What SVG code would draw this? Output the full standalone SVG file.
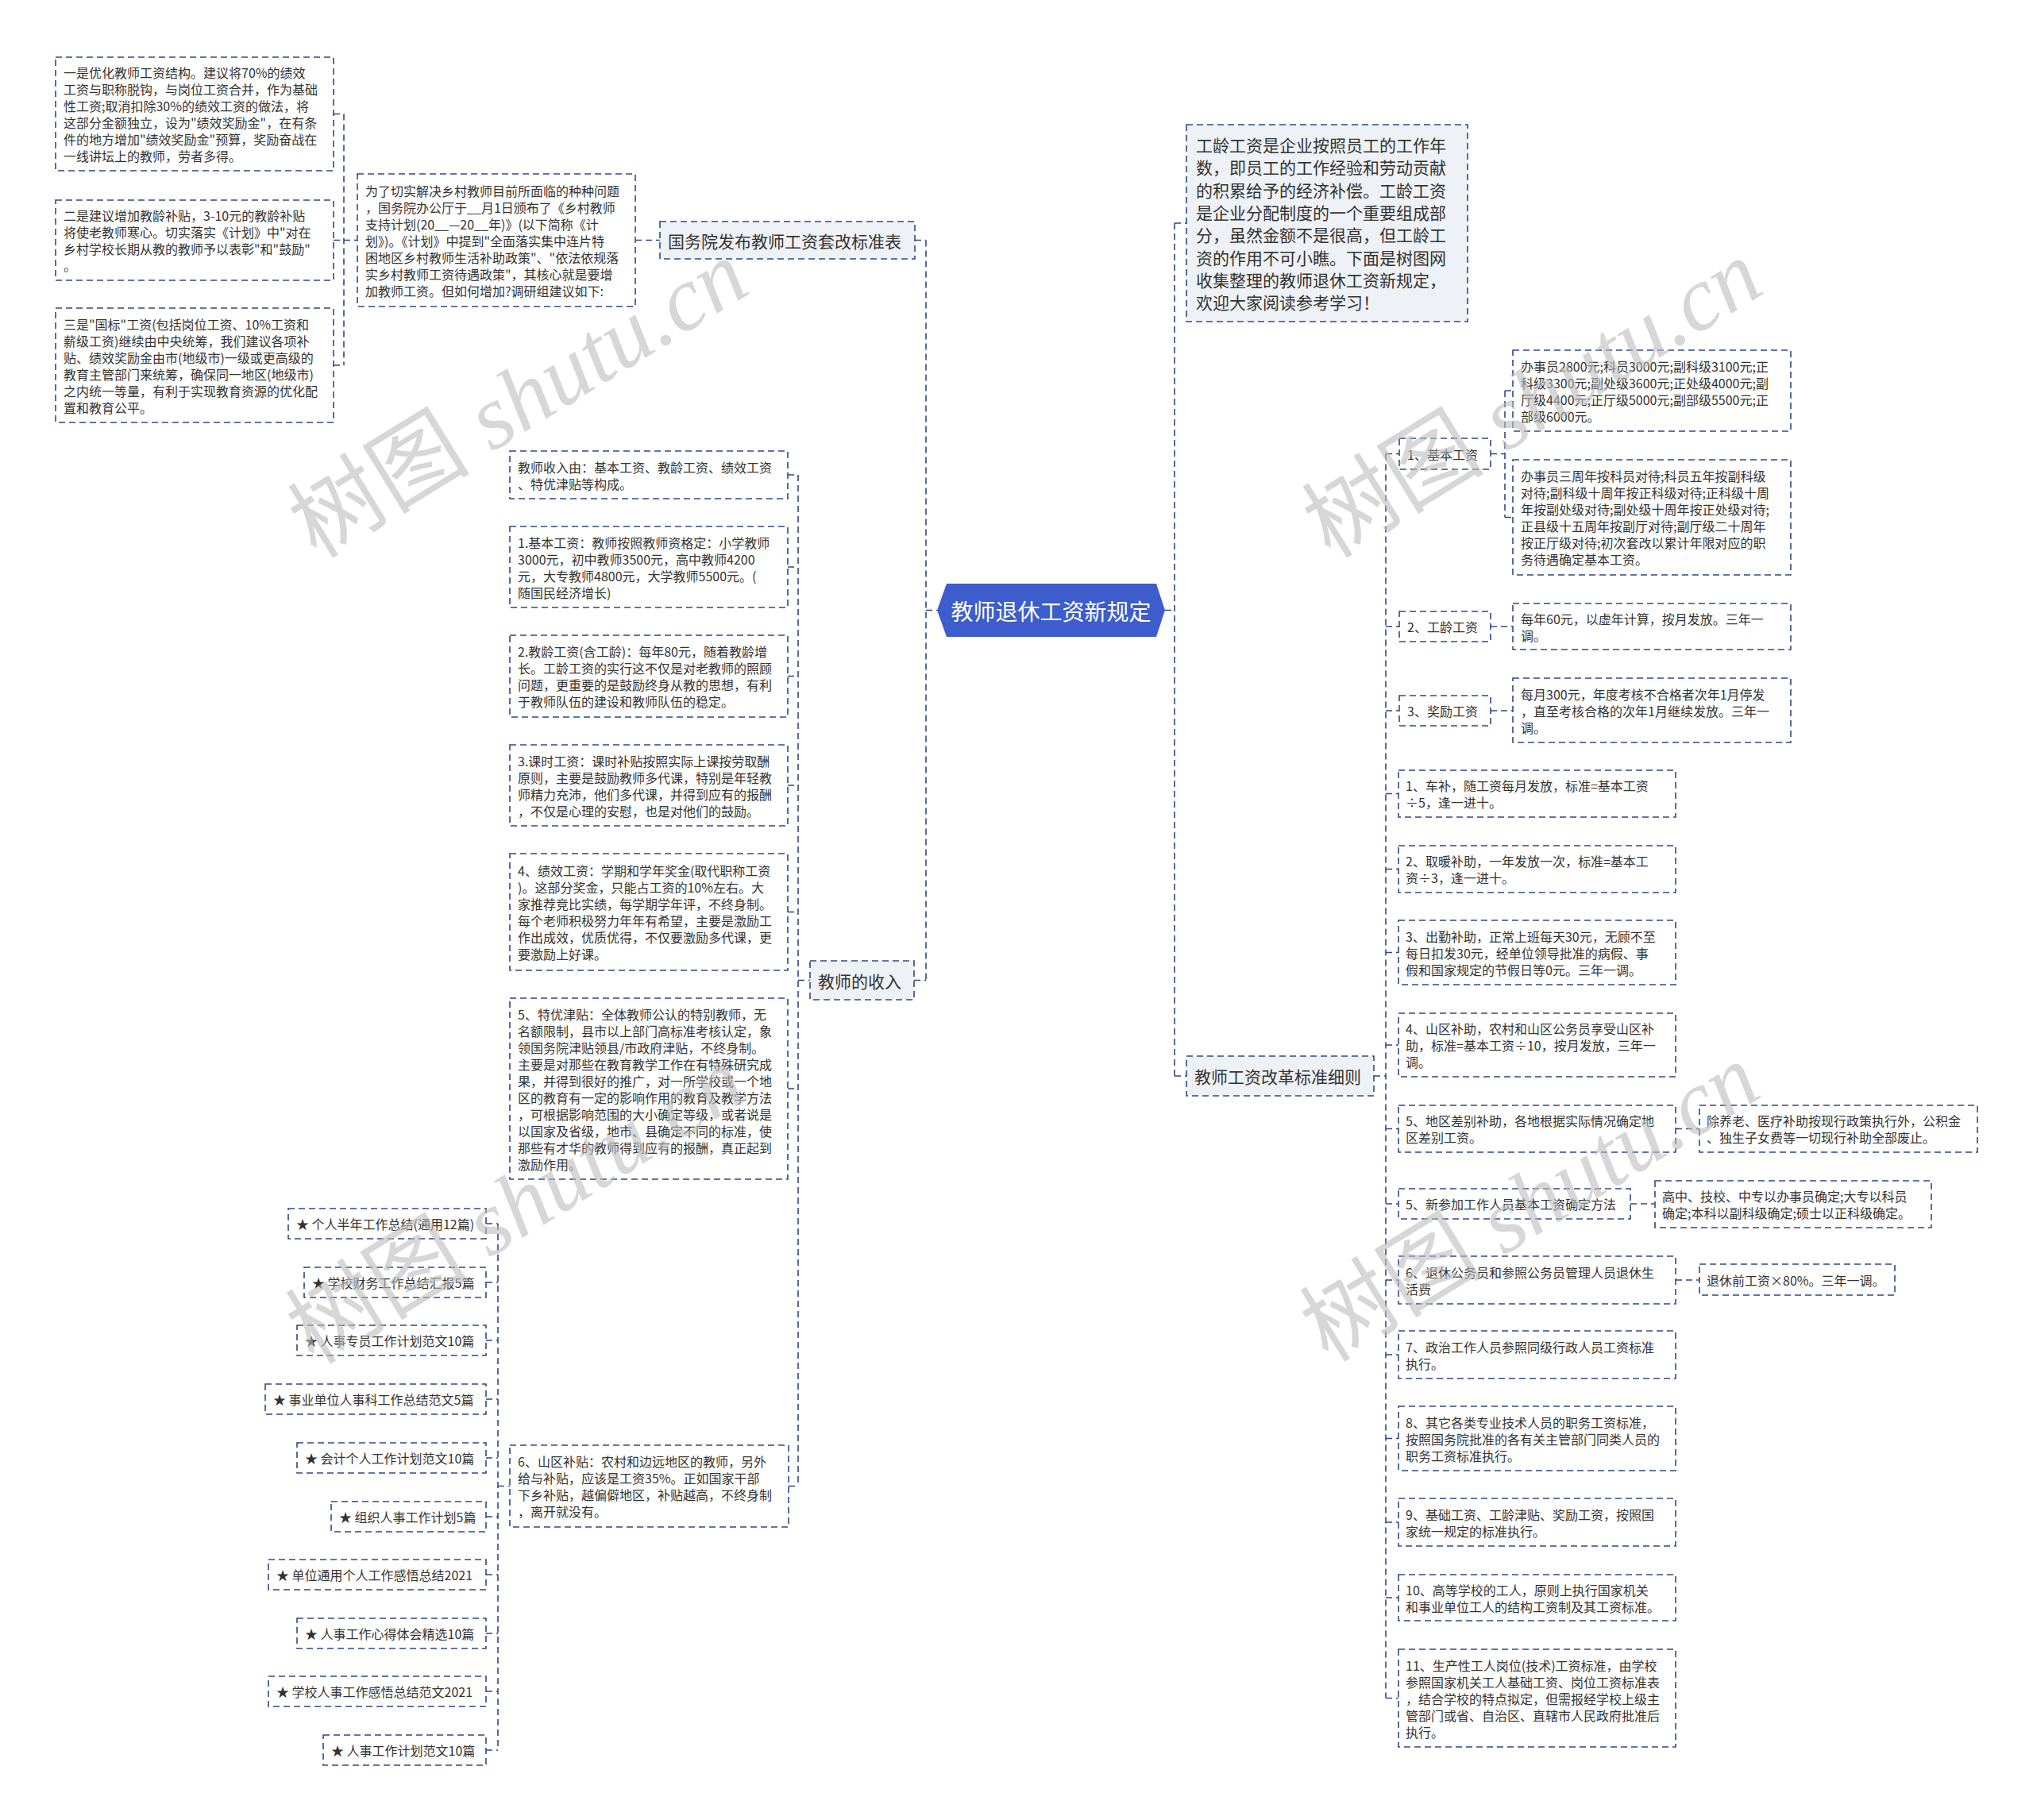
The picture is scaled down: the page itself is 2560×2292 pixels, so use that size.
<svg xmlns="http://www.w3.org/2000/svg" width="2560" height="2292" viewBox="0 0 2560 2292">
<style>
.bx{fill:#ffffff;stroke:#2e4a86;stroke-width:1.6;stroke-dasharray:8 5}
.n1{fill:#eef1f5;stroke:#2e4a86;stroke-width:1.6;stroke-dasharray:8 5}
.cn{fill:none;stroke:#2e4a86;stroke-width:1.6;stroke-dasharray:8 5}
text{font-family:"Noto Sans CJK SC","Noto Sans",sans-serif;fill:#333333;dominant-baseline:central}
.t{font-size:16px}
.t1{font-size:21px}
.rt{font-size:28px;fill:#ffffff;text-anchor:middle}
.wm{font-family:"Liberation Serif","Noto Sans CJK SC",serif;font-size:115px;fill:#bdbdbd;fill-opacity:0.6;text-anchor:middle}
</style>
<rect width="2560" height="2292" fill="#ffffff"/>

<g id="connectors">
<path class="cn" d="M420,143.5H433M420,302.5H450M420,460H433M433,143.5V460M800,302.5H831"/>
<path class="cn" d="M1152,302.5H1166M1151,1234.5H1166M1166,302.5V1234.5M1166,768.5H1180"/>
<path class="cn" d="M992,598H1005M992,714H1005M992,851.5H1005M992,989H1005M992,1148.5H1005M992,1371H1005M993,1871.5H1005M1005,598V1871.5M1005,1234.5H1020"/>
<path class="cn" d="M612,1541H627M612,1615H627M612,1688H627M612,1762H627M612,1836H627M612,1910H627M612,1983H627M612,2057H627M612,2130H627M612,2204H627M627,1541V2204M627,1871.5H642"/>
<path class="cn" d="M1467,768.5H1479M1479,281V1355M1479,281H1494M1479,1355H1494M1730,1355H1745M1745,571.5V2138.5"/>
<path class="cn" d="M1745,571.5H1762M1745,789H1762M1745,895H1762M1745,999.5H1761M1745,1094.5H1761M1745,1199.5H1761M1745,1316H1761M1745,1421.5H1761M1745,1516H1761M1745,1612H1761M1745,1706H1761M1745,1811.5H1761M1745,1917H1761M1745,2012H1761M1745,2138.5H1761"/>
<path class="cn" d="M1877,571.5H1895M1895,492V651.5M1895,492H1905M1895,651.5H1905M1877,789H1905M1877,895H1905M2110,1421.5H2140M2053,1516H2084M2110,1612H2140"/>
</g>

<g id="root">
<polygon points="1180,768.5 1192,735 1456,735 1467,768.5 1456,802 1192,802" fill="#3d5dcc"/>
<text class="rt" x="1323.5" y="768.5">教师退休工资新规定</text>
</g>

<g id="n-guowuyuan">
<rect class="n1" x="831" y="279" width="321" height="47"/>
<text class="t1" x="841" y="302.5">国务院发布教师工资套改标准表</text>
</g>
<g id="n-para">
<rect class="bx" x="450" y="219" width="350" height="167"/>
<text class="t"><tspan x="460" y="239.5">为了切实解决乡村教师目前所面临的种种问题</tspan><tspan x="460" y="260.5">，国务院办公厅于__月1日颁布了《乡村教师</tspan><tspan x="460" y="281.5">支持计划(20__—20__年)》(以下简称《计</tspan><tspan x="460" y="302.5">划》)。《计划》中提到"全面落实集中连片特</tspan><tspan x="460" y="323.5">困地区乡村教师生活补助政策"、"依法依规落</tspan><tspan x="460" y="344.5">实乡村教师工资待遇政策"，其核心就是要增</tspan><tspan x="460" y="365.5">加教师工资。但如何增加?调研组建议如下:</tspan></text>
</g>
<g id="n-l1">
<rect class="bx" x="70" y="72" width="350" height="143"/>
<text class="t"><tspan x="80" y="91">一是优化教师工资结构。建议将70%的绩效</tspan><tspan x="80" y="112">工资与职称脱钩，与岗位工资合并，作为基础</tspan><tspan x="80" y="133">性工资;取消扣除30%的绩效工资的做法，将</tspan><tspan x="80" y="154">这部分金额独立，设为"绩效奖励金"，在有条</tspan><tspan x="80" y="175">件的地方增加"绩效奖励金"预算，奖励奋战在</tspan><tspan x="80" y="196">一线讲坛上的教师，劳者多得。</tspan></text>
</g>
<g id="n-l2">
<rect class="bx" x="70" y="252" width="350" height="101"/>
<text class="t"><tspan x="80" y="271">二是建议增加教龄补贴，3-10元的教龄补贴</tspan><tspan x="80" y="292">将使老教师寒心。切实落实《计划》中"对在</tspan><tspan x="80" y="313">乡村学校长期从教的教师予以表彰"和"鼓励"</tspan><tspan x="80" y="334">。</tspan></text>
</g>
<g id="n-l3">
<rect class="bx" x="70" y="388" width="350" height="144"/>
<text class="t"><tspan x="80" y="407.5">三是"国标"工资(包括岗位工资、10%工资和</tspan><tspan x="80" y="428.5">薪级工资)继续由中央统筹，我们建议各项补</tspan><tspan x="80" y="449.5">贴、绩效奖励金由市(地级市)一级或更高级的</tspan><tspan x="80" y="470.5">教育主管部门来统筹，确保同一地区(地级市)</tspan><tspan x="80" y="491.5">之内统一等量，有利于实现教育资源的优化配</tspan><tspan x="80" y="512.5">置和教育公平。</tspan></text>
</g>

<g id="n-income">
<rect class="n1" x="1020" y="1210" width="131" height="49"/>
<text class="t1" x="1030" y="1234.5">教师的收入</text>
</g>
<g id="n-ia">
<rect class="bx" x="642" y="568" width="350" height="60"/>
<text class="t"><tspan x="652" y="587.5">教师收入由：基本工资、教龄工资、绩效工资</tspan><tspan x="652" y="608.5">、特优津贴等构成。</tspan></text>
</g>
<g id="n-ib">
<rect class="bx" x="642" y="663" width="350" height="102"/>
<text class="t"><tspan x="652" y="682.5">1.基本工资：教师按照教师资格定：小学教师</tspan><tspan x="652" y="703.5">3000元，初中教师3500元，高中教师4200</tspan><tspan x="652" y="724.5">元，大专教师4800元，大学教师5500元。(</tspan><tspan x="652" y="745.5">随国民经济增长)</tspan></text>
</g>
<g id="n-ic">
<rect class="bx" x="642" y="800" width="350" height="103"/>
<text class="t"><tspan x="652" y="820">2.教龄工资(含工龄)：每年80元，随着教龄增</tspan><tspan x="652" y="841">长。工龄工资的实行这不仅是对老教师的照顾</tspan><tspan x="652" y="862">问题，更重要的是鼓励终身从教的思想，有利</tspan><tspan x="652" y="883">于教师队伍的建设和教师队伍的稳定。</tspan></text>
</g>
<g id="n-id">
<rect class="bx" x="642" y="938" width="350" height="102"/>
<text class="t"><tspan x="652" y="957.5">3.课时工资：课时补贴按照实际上课按劳取酬</tspan><tspan x="652" y="978.5">原则，主要是鼓励教师多代课，特别是年轻教</tspan><tspan x="652" y="999.5">师精力充沛，他们多代课，并得到应有的报酬</tspan><tspan x="652" y="1020.5">，不仅是心理的安慰，也是对他们的鼓励。</tspan></text>
</g>
<g id="n-ie">
<rect class="bx" x="642" y="1075" width="350" height="147"/>
<text class="t"><tspan x="652" y="1096">4、绩效工资：学期和学年奖金(取代职称工资</tspan><tspan x="652" y="1117">)。这部分奖金，只能占工资的10%左右。大</tspan><tspan x="652" y="1138">家推荐竞比实绩，每学期学年评，不终身制。</tspan><tspan x="652" y="1159">每个老师积极努力年年有希望，主要是激励工</tspan><tspan x="652" y="1180">作出成效，优质优得，不仅要激励多代课，更</tspan><tspan x="652" y="1201">要激励上好课。</tspan></text>
</g>
<g id="n-if">
<rect class="bx" x="642" y="1257" width="350" height="228"/>
<text class="t"><tspan x="652" y="1276.5">5、特优津贴：全体教师公认的特别教师，无</tspan><tspan x="652" y="1297.5">名额限制，县市以上部门高标准考核认定，象</tspan><tspan x="652" y="1318.5">领国务院津贴领县/市政府津贴，不终身制。</tspan><tspan x="652" y="1339.5">主要是对那些在教育教学工作在有特殊研究成</tspan><tspan x="652" y="1360.5">果，并得到很好的推广，对一所学校或一个地</tspan><tspan x="652" y="1381.5">区的教育有一定的影响作用的教育及教学方法</tspan><tspan x="652" y="1402.5">，可根据影响范围的大小确定等级，或者说是</tspan><tspan x="652" y="1423.5">以国家及省级，地市、县确定不同的标准，使</tspan><tspan x="652" y="1444.5">那些有才华的教师得到应有的报酬，真正起到</tspan><tspan x="652" y="1465.5">激励作用。</tspan></text>
</g>
<g id="n-ig">
<rect class="bx" x="642" y="1820" width="351" height="103"/>
<text class="t"><tspan x="652" y="1840">6、山区补贴：农村和边远地区的教师，另外</tspan><tspan x="652" y="1861">给与补贴，应该是工资35%。正如国家干部</tspan><tspan x="652" y="1882">下乡补贴，越偏僻地区，补贴越高，不终身制</tspan><tspan x="652" y="1903">，离开就没有。</tspan></text>
</g>

<g id="n-s1"><rect class="bx" x="363" y="1522" width="249" height="38"/><text class="t" x="373" y="1541">★ 个人半年工作总结(通用12篇)</text></g>
<g id="n-s2"><rect class="bx" x="383" y="1596" width="229" height="38"/><text class="t" x="393" y="1615">★ 学校财务工作总结汇报5篇</text></g>
<g id="n-s3"><rect class="bx" x="374" y="1669" width="238" height="38"/><text class="t" x="384" y="1688">★ 人事专员工作计划范文10篇</text></g>
<g id="n-s4"><rect class="bx" x="334" y="1743" width="278" height="38"/><text class="t" x="344" y="1762">★ 事业单位人事科工作总结范文5篇</text></g>
<g id="n-s5"><rect class="bx" x="374" y="1817" width="238" height="38"/><text class="t" x="384" y="1836">★ 会计个人工作计划范文10篇</text></g>
<g id="n-s6"><rect class="bx" x="417" y="1891" width="195" height="38"/><text class="t" x="427" y="1910">★ 组织人事工作计划5篇</text></g>
<g id="n-s7"><rect class="bx" x="338" y="1964" width="274" height="38"/><text class="t" x="348" y="1983">★ 单位通用个人工作感悟总结2021</text></g>
<g id="n-s8"><rect class="bx" x="374" y="2038" width="238" height="38"/><text class="t" x="384" y="2057">★ 人事工作心得体会精选10篇</text></g>
<g id="n-s9"><rect class="bx" x="338" y="2111" width="274" height="38"/><text class="t" x="348" y="2130">★ 学校人事工作感悟总结范文2021</text></g>
<g id="n-s10"><rect class="bx" x="407" y="2185" width="205" height="38"/><text class="t" x="417" y="2204">★ 人事工作计划范文10篇</text></g>

<g id="n-intro">
<rect class="n1" x="1494" y="157" width="354" height="248"/>
<text class="t1"><tspan x="1506" y="182">工龄工资是企业按照员工的工作年</tspan><tspan x="1506" y="210.3">数，即员工的工作经验和劳动贡献</tspan><tspan x="1506" y="238.6">的积累给予的经济补偿。工龄工资</tspan><tspan x="1506" y="266.9">是企业分配制度的一个重要组成部</tspan><tspan x="1506" y="295.2">分，虽然金额不是很高，但工龄工</tspan><tspan x="1506" y="323.5">资的作用不可小瞧。下面是树图网</tspan><tspan x="1506" y="351.8">收集整理的教师退休工资新规定，</tspan><tspan x="1506" y="380.1">欢迎大家阅读参考学习！</tspan></text>
</g>
<g id="n-rules">
<rect class="n1" x="1494" y="1330" width="236" height="50"/>
<text class="t1" x="1504" y="1355">教师工资改革标准细则</text>
</g>

<g id="n-jb"><rect class="bx" x="1762" y="552" width="115" height="39"/><text class="t" x="1772" y="571.5">1、基本工资</text></g>
<g id="n-jb1">
<rect class="bx" x="1905" y="441" width="350" height="102"/>
<text class="t"><tspan x="1915" y="460.5">办事员2800元;科员3000元;副科级3100元;正</tspan><tspan x="1915" y="481.5">科级3300元;副处级3600元;正处级4000元;副</tspan><tspan x="1915" y="502.5">厅级4400元;正厅级5000元;副部级5500元;正</tspan><tspan x="1915" y="523.5">部级6000元。</tspan></text>
</g>
<g id="n-jb2">
<rect class="bx" x="1905" y="579" width="350" height="145"/>
<text class="t"><tspan x="1915" y="599">办事员三周年按科员对待;科员五年按副科级</tspan><tspan x="1915" y="620">对待;副科级十周年按正科级对待;正科级十周</tspan><tspan x="1915" y="641">年按副处级对待;副处级十周年按正处级对待;</tspan><tspan x="1915" y="662">正县级十五周年按副厅对待;副厅级二十周年</tspan><tspan x="1915" y="683">按正厅级对待;初次套改以累计年限对应的职</tspan><tspan x="1915" y="704">务待遇确定基本工资。</tspan></text>
</g>
<g id="n-gl"><rect class="bx" x="1762" y="770" width="115" height="38"/><text class="t" x="1772" y="789">2、工龄工资</text></g>
<g id="n-gl1">
<rect class="bx" x="1905" y="760" width="350" height="58"/>
<text class="t"><tspan x="1915" y="778.5">每年60元，以虚年计算，按月发放。三年一</tspan><tspan x="1915" y="799.5">调。</tspan></text>
</g>
<g id="n-jl"><rect class="bx" x="1762" y="876" width="115" height="38"/><text class="t" x="1772" y="895">3、奖励工资</text></g>
<g id="n-jl1">
<rect class="bx" x="1905" y="854" width="350" height="81"/>
<text class="t"><tspan x="1915" y="873.5">每月300元，年度考核不合格者次年1月停发</tspan><tspan x="1915" y="894.5">，直至考核合格的次年1月继续发放。三年一</tspan><tspan x="1915" y="915.5">调。</tspan></text>
</g>

<g id="n-r1"><rect class="bx" x="1761" y="970" width="349" height="59"/><text class="t"><tspan x="1770" y="989">1、车补，随工资每月发放，标准=基本工资</tspan><tspan x="1770" y="1010">÷5，逢一进十。</tspan></text></g>
<g id="n-r2"><rect class="bx" x="1761" y="1065" width="349" height="59"/><text class="t"><tspan x="1770" y="1084">2、取暖补助，一年发放一次，标准=基本工</tspan><tspan x="1770" y="1105">资÷3，逢一进十。</tspan></text></g>
<g id="n-r3"><rect class="bx" x="1761" y="1159" width="349" height="81"/><text class="t"><tspan x="1770" y="1178.5">3、出勤补助，正常上班每天30元，无顾不至</tspan><tspan x="1770" y="1199.5">每日扣发30元，经单位领导批准的病假、事</tspan><tspan x="1770" y="1220.5">假和国家规定的节假日等0元。三年一调。</tspan></text></g>
<g id="n-r4"><rect class="bx" x="1761" y="1276" width="349" height="80"/><text class="t"><tspan x="1770" y="1295">4、山区补助，农村和山区公务员享受山区补</tspan><tspan x="1770" y="1316">助，标准=基本工资÷10，按月发放，三年一</tspan><tspan x="1770" y="1337">调。</tspan></text></g>
<g id="n-r5"><rect class="bx" x="1761" y="1392" width="349" height="59"/><text class="t"><tspan x="1770" y="1411">5、地区差别补助，各地根据实际情况确定地</tspan><tspan x="1770" y="1432">区差别工资。</tspan></text></g>
<g id="n-r5c"><rect class="bx" x="2140" y="1392" width="350" height="59"/><text class="t"><tspan x="2149" y="1411">除养老、医疗补助按现行政策执行外，公积金</tspan><tspan x="2149" y="1432">、独生子女费等一切现行补助全部废止。</tspan></text></g>
<g id="n-r6"><rect class="bx" x="1761" y="1497" width="292" height="38"/><text class="t" x="1770" y="1516">5、新参加工作人员基本工资确定方法</text></g>
<g id="n-r6c"><rect class="bx" x="2084" y="1487" width="348" height="59"/><text class="t"><tspan x="2093" y="1506">高中、技校、中专以办事员确定;大专以科员</tspan><tspan x="2093" y="1527">确定;本科以副科级确定;硕士以正科级确定。</tspan></text></g>
<g id="n-r7"><rect class="bx" x="1761" y="1582" width="349" height="60"/><text class="t"><tspan x="1770" y="1601.5">6、退休公务员和参照公务员管理人员退休生</tspan><tspan x="1770" y="1622.5">活费</tspan></text></g>
<g id="n-r7c"><rect class="bx" x="2140" y="1592" width="246" height="39"/><text class="t" x="2149" y="1611.5">退休前工资×80%。三年一调。</text></g>
<g id="n-r8"><rect class="bx" x="1761" y="1676" width="349" height="60"/><text class="t"><tspan x="1770" y="1695.5">7、政治工作人员参照同级行政人员工资标准</tspan><tspan x="1770" y="1716.5">执行。</tspan></text></g>
<g id="n-r9"><rect class="bx" x="1761" y="1771" width="349" height="81"/><text class="t"><tspan x="1770" y="1790.5">8、其它各类专业技术人员的职务工资标准，</tspan><tspan x="1770" y="1811.5">按照国务院批准的各有关主管部门同类人员的</tspan><tspan x="1770" y="1832.5">职务工资标准执行。</tspan></text></g>
<g id="n-r10"><rect class="bx" x="1761" y="1887" width="349" height="60"/><text class="t"><tspan x="1770" y="1906.5">9、基础工资、工龄津贴、奖励工资，按照国</tspan><tspan x="1770" y="1927.5">家统一规定的标准执行。</tspan></text></g>
<g id="n-r11"><rect class="bx" x="1761" y="1983" width="349" height="58"/><text class="t"><tspan x="1770" y="2001.5">10、高等学校的工人，原则上执行国家机关</tspan><tspan x="1770" y="2022.5">和事业单位工人的结构工资制及其工资标准。</tspan></text></g>
<g id="n-r12"><rect class="bx" x="1761" y="2077" width="349" height="123"/><text class="t"><tspan x="1770" y="2096.5">11、生产性工人岗位(技术)工资标准，由学校</tspan><tspan x="1770" y="2117.5">参照国家机关工人基础工资、岗位工资标准表</tspan><tspan x="1770" y="2138.5">，结合学校的特点拟定，但需报经学校上级主</tspan><tspan x="1770" y="2159.5">管部门或省、自治区、直辖市人民政府批准后</tspan><tspan x="1770" y="2180.5">执行。</tspan></text></g>

<g id="watermarks">
<text class="wm" transform="translate(653,503) rotate(-31.6)">树图 <tspan font-style="italic">shutu.cn</tspan></text>
<text class="wm" transform="translate(1930,503) rotate(-31.6)">树图 <tspan font-style="italic">shutu.cn</tspan></text>
<text class="wm" transform="translate(650,1518) rotate(-31.6)">树图 <tspan font-style="italic">shutu.cn</tspan></text>
<text class="wm" transform="translate(1927,1515) rotate(-31.6)">树图 <tspan font-style="italic">shutu.cn</tspan></text>
</g>
</svg>
